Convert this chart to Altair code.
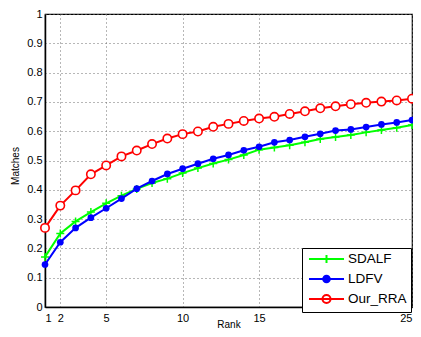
import altair as alt
import pandas as pd

ranks = list(range(1, 26))
series_names = ["SDALF", "LDFV", "Our_RRA"]
series_colors = ["#00ff00", "#0000ff", "#ff0000"]
legend_fills = ["transparent", "#0000ff", "transparent"]

sdalf = [0.171, 0.251, 0.292, 0.324, 0.354, 0.380, 0.403, 0.423, 0.438, 0.457,
         0.474, 0.490, 0.503, 0.519, 0.537, 0.544, 0.552, 0.562, 0.573, 0.580,
         0.587, 0.596, 0.604, 0.612, 0.621]
ldfv = [0.145, 0.221, 0.270, 0.305, 0.337, 0.370, 0.404, 0.430, 0.454, 0.472,
        0.489, 0.506, 0.519, 0.535, 0.547, 0.562, 0.570, 0.581, 0.591, 0.602,
        0.606, 0.614, 0.623, 0.630, 0.638]
our_rra = [0.270, 0.346, 0.398, 0.453, 0.483, 0.514, 0.534, 0.556, 0.575, 0.590,
           0.599, 0.615, 0.625, 0.635, 0.643, 0.649, 0.659, 0.668, 0.678, 0.685,
           0.692, 0.697, 0.701, 0.705, 0.711]

x_ticks = [1, 2, 5, 10, 15, 25]
y_ticks = [round(i * 0.1, 1) for i in range(11)]

rows = []
for name, vals in zip(series_names, [sdalf, ldfv, our_rra]):
    for r, v in zip(ranks, vals):
        rows.append({"Rank": r, "Matches": v, "Series": name})
df = pd.DataFrame(rows)

FONT = "Liberation Sans"

x_enc = alt.X("Rank:Q",
              scale=alt.Scale(domain=[1, 25], nice=False, zero=False),
              axis=alt.Axis(values=x_ticks, title="Rank", titleY=20,
                            titleBaseline="alphabetic", labelPadding=5))
y_enc = alt.Y("Matches:Q",
              scale=alt.Scale(domain=[0, 1], nice=False),
              axis=alt.Axis(values=y_ticks, format=".1~f", title="Matches",
                            titleX=-30, titleY=151.5, titleBaseline="middle",
                            titleAlign="center", titleAngle=270, labelPadding=3))

# legend symbols: line segment with marker (custom SVG paths)
P_PLUS = "M-0.67,0H5.17M2.25,-0.67V0.67"
P_DOT = "M-0.67,0H5.17M1.7,0A0.55,0.55 0 1,0 2.8,0A0.55,0.55 0 1,0 1.7,0"
P_CIRC = "M-0.67,0H5.17M1.58,0A0.67,0.67 0 1,0 2.92,0A0.67,0.67 0 1,0 1.58,0"
legend_shapes = [P_PLUS, P_DOT, P_CIRC]

legend = alt.Legend(
    title=None, orient="none", legendX=257, legendY=234,
    labelFont=FONT, labelFontSize=13.5, labelColor="black",
    strokeColor="black", fillColor="white", padding=4, cornerRadius=0,
    rowPadding=3, labelOffset=28, symbolSize=144, symbolStrokeWidth=2,
    symbolOpacity=1,
)

base = alt.Chart(df)
layers = []
point_styles = {
    "SDALF": dict(shape="M-1,0H1M0,-1V1", size=64, filled=False, strokeWidth=1.5,
                  color="#00ff00", opacity=1),
    "LDFV": dict(shape="circle", size=45, filled=True, color="#0000ff", opacity=1),
    "Our_RRA": dict(shape="circle", size=70, filled=False, fill="white",
                    stroke="#ff0000", strokeWidth=1.6, fillOpacity=1, opacity=1),
}
for name, col in zip(series_names, series_colors):
    sub = base.transform_filter(alt.datum.Series == name)
    layers.append(sub.mark_line(strokeWidth=2, color=col).encode(x=x_enc, y=y_enc))
    layers.append(sub.mark_point(**point_styles[name]).encode(x=x_enc, y=y_enc))

# legend-only layer (no data rows drawn)
legend_layer = base.transform_filter("false").mark_point(strokeWidth=2, opacity=1).encode(
    x=x_enc, y=y_enc,
    stroke=alt.Stroke("Series:N", scale=alt.Scale(domain=series_names, range=series_colors), legend=legend),
    fill=alt.Fill("Series:N", scale=alt.Scale(domain=series_names, range=legend_fills), legend=legend),
    shape=alt.Shape("Series:N", scale=alt.Scale(domain=series_names, range=legend_shapes), legend=legend),
)
layers.append(legend_layer)

chart = alt.layer(*layers).properties(
    width=367, height=293,
    autosize=alt.AutoSizeParams(type="none"),
    padding={"left": 37, "top": 6, "right": 1, "bottom": 21},
).configure_view(
    stroke="black", strokeWidth=1.2
).configure_axis(
    grid=True, gridColor="#6e6e6e", gridDash=[1, 3], gridWidth=1, gridOpacity=1,
    domainColor="black", domainWidth=1.5, ticks=False, tickSize=0,
    labelFont=FONT, labelFontSize=11, labelColor="black",
    titleFont=FONT, titleFontSize=10, titleFontWeight="normal", titleColor="black",
)

chart.save("out.html", embed_options={"renderer": "svg", "actions": False})
